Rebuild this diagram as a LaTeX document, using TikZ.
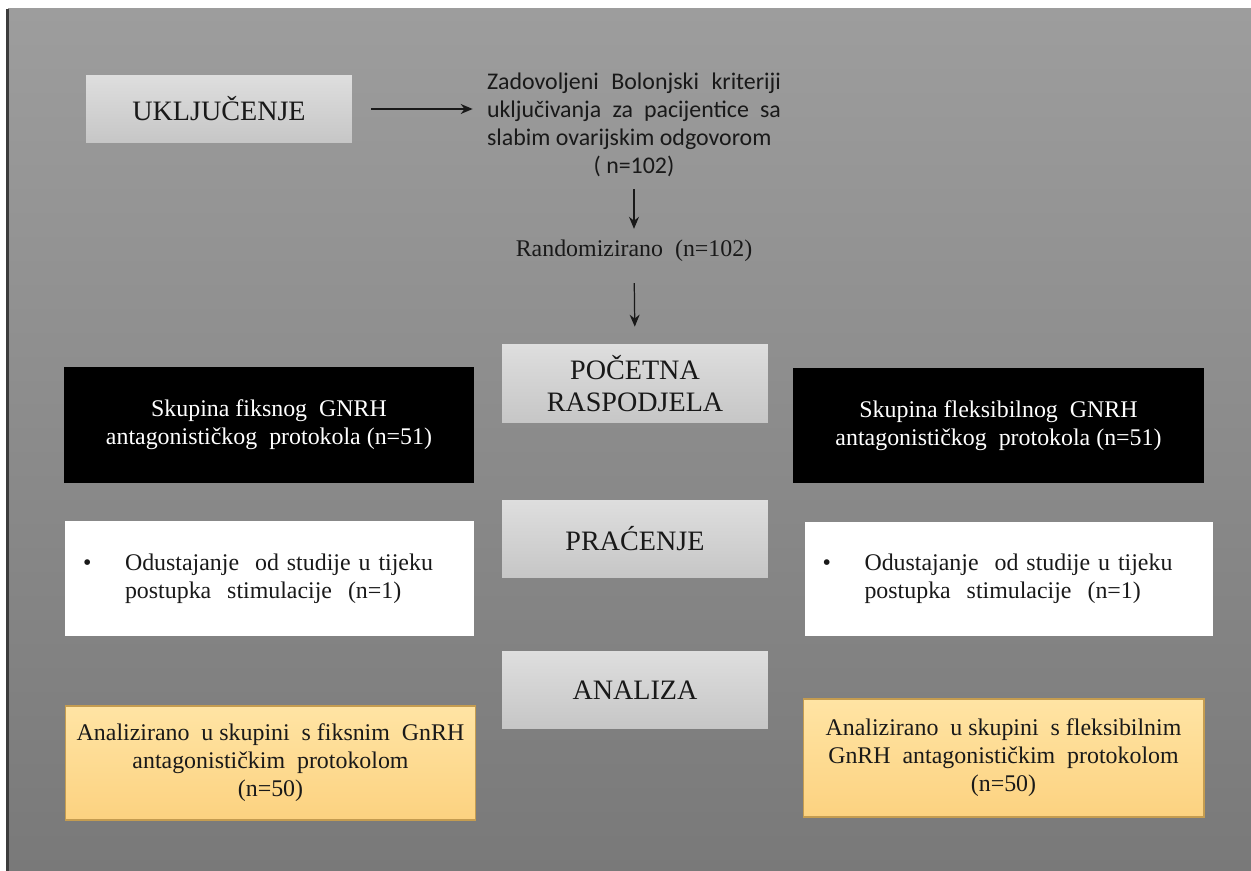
\documentclass[tikz,border=0pt]{standalone}
\usepackage{fontspec}
\setmainfont{Liberation Serif}
\newfontfamily\calibrifont{Carlito}
\usetikzlibrary{positioning, arrows.meta}
\definecolor{bgtop}{RGB}{157,157,157}
\definecolor{bgbot}{RGB}{121,121,121}
\definecolor{phtop}{RGB}{222,222,222}
\definecolor{phbot}{RGB}{198,198,198}
\definecolor{yeltop}{RGB}{255,228,164}
\definecolor{yelbot}{RGB}{252,210,128}
\definecolor{yeldraw}{RGB}{196,156,80}
\definecolor{edgegray}{RGB}{60,60,60}
\newcommand{\boxfont}{\fontsize{13.6}{15.9}\selectfont}
\newcommand{\headfont}{\fontsize{16}{17.8}\selectfont}
\newcommand{\dropout}{\makebox[0.84cm][l]{\textbullet}\parbox[t]{6.5cm}{Odustajanje\ \ od studije u tijeku\\postupka\ \ stimulacije\ \ (n=1)}}
\tikzset{
    phasebox/.style={top color=phtop, bottom color=phbot, minimum width=5.32cm, minimum height=1.56cm, align=center, font=\headfont, text=black!90},
    groupbox/.style={fill=black, text=white, minimum width=8.22cm, minimum height=2.32cm, align=center, font=\boxfont},
    dropbox/.style={fill=white, text=black!90, minimum width=8.18cm, minimum height=2.3cm, inner xsep=0.36cm, text width=7.46cm, align=left, font=\boxfont},
    resultbox/.style={top color=yeltop, bottom color=yelbot, draw=yeldraw, line width=0.6pt, minimum width=8.22cm, minimum height=2.28cm, align=center, font=\boxfont, text=black!90},
    plaintext/.style={inner sep=0pt, text=black!90, font=\boxfont},
    flowarrow/.style={-{Stealth[length=0.24cm, width=0.2cm]}, line width=0.7pt, black!90}
}

\begin{document}
\begin{tikzpicture}[x=0.02cm, y=-0.02cm]
    % slide backdrop
    \useasboundingbox (0,0) rectangle (1251,871);
    \shade[top color=bgtop, bottom color=bgbot] (8,9) rectangle (1251,871);
    \draw[edgegray, line width=1.2pt] (7.5,9) -- (7.5,871);

    % phases in the middle column
    \node[phasebox, minimum height=1.36cm] (incl) at (219,109) {UKLJUČENJE};
    \node[plaintext, font=\calibrifont\boxfont] (crit) at (634,125) {\parbox{5.88cm}{Zadovoljeni Bolonjski kriteriji\linebreak uključivanja za pacijentice sa\linebreak slabim ovarijskim odgovorom\par\centering ( n=102)\par}};
    \node[plaintext] (rand) at (634,251) {Randomizirano\ \ (n=102)};
    \node[phasebox, minimum height=1.58cm] (start) at (635,383.5) {POČETNA\\RASPODJELA};
    \node[phasebox] (follow) at (635,539) {PRAĆENJE};
    \node[phasebox] (analysis) at (635,690) {ANALIZA};

    % the two arms
    \node[groupbox] (fixgrp) at (269,425) {Skupina fiksnog\ \ GNRH\\antagonističkog\ \ protokola (n=51)};
    \node[groupbox] (flexgrp) at (998.5,425.5) {Skupina fleksibilnog\ \ GNRH\\antagonističkog\ \ protokola (n=51)};
    \node[dropbox] (fixdrop) at (269.5,578.5) {\dropout};
    \node[dropbox] (flexdrop) at (1009,579) {\dropout};
    \node[resultbox] (fixres) at (270.5,763) {Analizirano\ \ u skupini\ \ s fiksnim\ \ GnRH\\antagonističkim\ \ protokolom\\(n=50)};
    \node[resultbox, minimum width=8.02cm, minimum height=2.36cm] (flexres) at (1003.5,758) {Analizirano\ \ u skupini\ \ s fleksibilnim\\GnRH\ \ antagonističkim\ \ protokolom\\(n=50)};

    % arrows
    \draw[flowarrow, shorten <=0.38cm, shorten >=0.28cm] (incl.east) -- (crit.west |- incl.east);
    \draw[flowarrow, shorten <=0.24cm, shorten >=0.22cm] (crit.south) -- (rand.north);
    \draw[flowarrow, shorten <=0.42cm, shorten >=0.34cm] (rand.south) -- (start.north);
\end{tikzpicture}
\end{document}
